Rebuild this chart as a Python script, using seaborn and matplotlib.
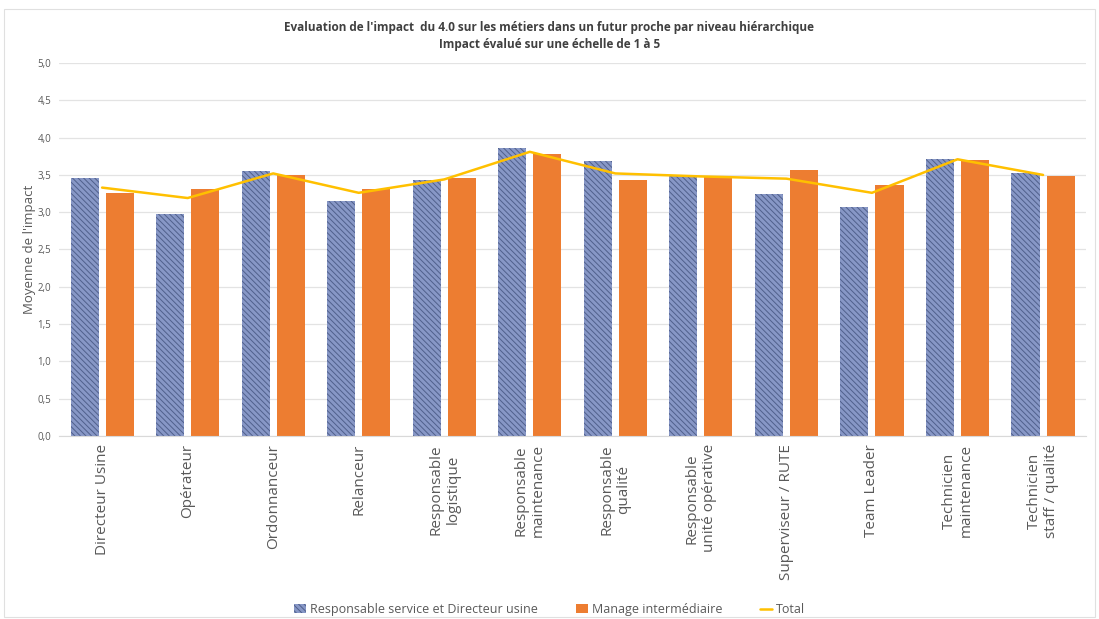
import matplotlib
matplotlib.use("Agg")
import matplotlib.pyplot as plt
from matplotlib.patches import Patch, Rectangle
from matplotlib.lines import Line2D
import seaborn as sns
import pandas as pd

# Data
metiers = ["Directeur Usine", "Opérateur", "Ordonnanceur", "Relanceur",
           "Responsable\nlogistique", "Responsable\nmaintenance",
           "Responsable\nqualité", "Responsable\nunité opérative",
           "Superviseur / RUTE", "Team Leader",
           "Technicien\nmaintenance", "Technicien\nstaff / qualité"]
resp_service = [3.46, 2.98, 3.55, 3.15, 3.43, 3.86, 3.69, 3.49, 3.24, 3.07, 3.71, 3.53]
manage_inter = [3.26, 3.31, 3.50, 3.31, 3.46, 3.78, 3.43, 3.49, 3.57, 3.36, 3.70, 3.48]
total = [3.33, 3.19, 3.52, 3.26, 3.44, 3.81, 3.52, 3.48, 3.45, 3.26, 3.71, 3.50]

serie_1 = "Responsable service et Directeur usine"
serie_2 = "Manage intermédiaire"

sns.set_style("white")
plt.rcParams['font.family'] = ['Open Sans', 'DejaVu Sans']
plt.rcParams['hatch.linewidth'] = 0.7

blue = "#8797c6"
hatch_col = "#50608c"
orange = "#ed7d31"
gold = "#ffc000"
grey_txt = "#595959"

df = pd.DataFrame({
    "metier": metiers * 2,
    "valeur": resp_service + manage_inter,
    "groupe": [serie_1] * len(metiers) + [serie_2] * len(metiers),
})

fig = plt.figure(figsize=(10.99, 6.19), dpi=100)
ax = fig.add_axes([0.054, 0.296, 0.934, 0.602])

sns.barplot(data=df, x="metier", y="valeur", hue="groupe", order=metiers,
            palette=[blue, orange], width=0.82, gap=0.2, ax=ax,
            legend=False, saturation=1)

# hatch the first series like the excel pattern fill
for bar in ax.containers[0]:
    bar.set_hatch("\\\\\\\\\\\\")
    bar.set_edgecolor(hatch_col)
    bar.set_linewidth(0)
for bar in ax.containers[1]:
    bar.set_linewidth(0)

sns.pointplot(x=metiers, y=total, order=metiers, color=gold, markers="",
              linestyles="-", ax=ax, errorbar=None)
for line in ax.lines:
    line.set_linewidth(1.8)

ax.set_ylim(0, 5)
ax.set_xlim(-0.5, len(metiers) - 0.5)
yt = [i * 0.5 for i in range(11)]
ax.set_yticks(yt)
ax.set_yticklabels([f"{v:.1f}".replace(".", ",") for v in yt], fontsize=7, color=grey_txt)
ax.yaxis.grid(True, color="#e3e3e3", linewidth=0.9)
ax.set_axisbelow(True)
for s in ["top", "right", "left"]:
    ax.spines[s].set_visible(False)
ax.spines["bottom"].set_color("#d9d9d9")
ax.tick_params(axis="both", length=0, pad=6)

ax.set_xticks(range(len(metiers)))
ax.set_xticklabels(metiers, rotation=90, fontsize=11, color=grey_txt,
                   ha="center", va="top", multialignment="center")
ax.set_xlabel("")
ax.set_ylabel("Moyenne de l'impact", fontsize=9.5, color=grey_txt, labelpad=1)

fig.text(0.5, 0.942, "Evaluation de l'impact  du 4.0 sur les métiers dans un futur proche par niveau hiérarchique\nImpact évalué sur une échelle de 1 à 5",
         ha="center", va="center", fontsize=8.5, fontweight="bold", color="#404040",
         linespacing=1.45)

handles = [Patch(facecolor=blue, edgecolor=hatch_col, hatch="\\\\\\\\\\\\", linewidth=0, label=serie_1),
           Patch(facecolor=orange, linewidth=0, label=serie_2),
           Line2D([0], [0], color=gold, linewidth=1.8, label="Total")]
fig.legend(handles=handles, loc="center", bbox_to_anchor=(0.5, 0.015), ncol=3,
           frameon=False, fontsize=9, handlelength=1.0, handletextpad=0.3,
           columnspacing=3.0, labelcolor=grey_txt)

# thin chart-area frame like the excel export
fig.patches.append(Rectangle((0.004, 0.004), 0.992, 0.982, transform=fig.transFigure,
                             fill=False, edgecolor="#e0e0e0", linewidth=0.8))

fig.savefig("out.png", dpi=100)
